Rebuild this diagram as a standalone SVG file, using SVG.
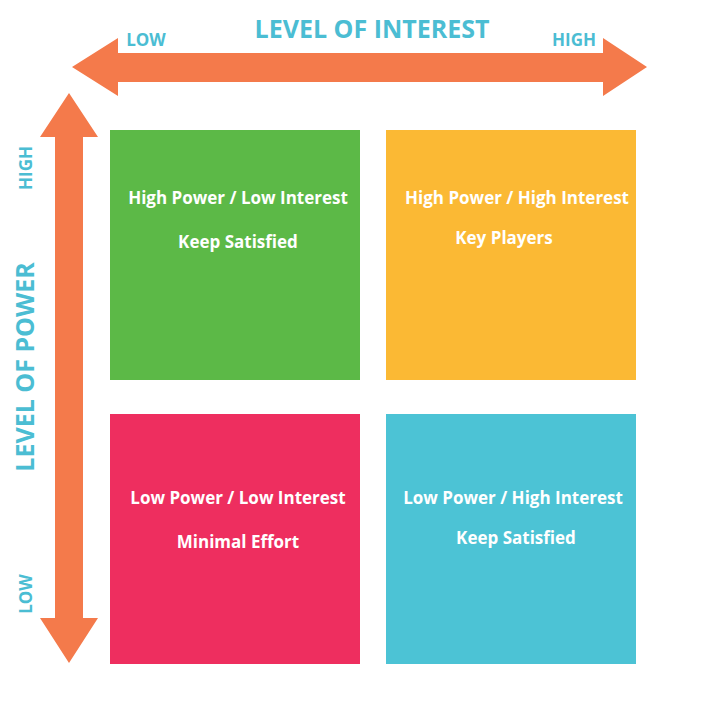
<svg xmlns="http://www.w3.org/2000/svg" width="707" height="704" viewBox="0 0 707 704">
<style>
.axis{fill:#4bbdd3;font-family:"Open Sans","Liberation Sans",sans-serif;font-weight:700;text-anchor:middle}
.lbl{fill:#ffffff;font-family:"Open Sans","Liberation Sans",sans-serif;font-weight:700;font-size:17px;text-anchor:middle}
.arrow{fill:#f47a4b}
</style>
<rect width="707" height="704" fill="#ffffff"/>
<g id="connectors">
<polygon class="arrow" points="72,67 118,38 118,53 603,53 603,38 647,67 603,96 603,82 118,82 118,96"/>
<polygon class="arrow" points="69,93 98,137 83,137 83,618 98,618 69,663 40,618 55,618 55,137 40,137"/>
</g>
<g id="axis-labels">
<text class="axis" x="372" y="38" font-size="25">LEVEL OF INTEREST</text>
<text class="axis" x="146" y="46" font-size="17">LOW</text>
<text class="axis" x="574" y="46" font-size="17">HIGH</text>
<text class="axis" transform="translate(34,367) rotate(-90)" font-size="25">LEVEL OF POWER</text>
<text class="axis" transform="translate(32,168) rotate(-90)" font-size="17">HIGH</text>
<text class="axis" transform="translate(32,594) rotate(-90)" font-size="17">LOW</text>
</g>
<g id="high-power-low-interest">
<rect x="110" y="130" width="250" height="250" fill="#5cb947"/>
<text class="lbl" x="238" y="204">High Power / Low Interest</text>
<text class="lbl" x="238" y="248">Keep Satisfied</text>
</g>
<g id="high-power-high-interest">
<rect x="386" y="130" width="250" height="250" fill="#fbb934"/>
<text class="lbl" x="517" y="204">High Power / High Interest</text>
<text class="lbl" x="504" y="244">Key Players</text>
</g>
<g id="low-power-low-interest">
<rect x="110" y="414" width="250" height="250" fill="#ee2e5f"/>
<text class="lbl" x="238" y="504">Low Power / Low Interest</text>
<text class="lbl" x="238" y="548">Minimal Effort</text>
</g>
<g id="low-power-high-interest">
<rect x="386" y="414" width="250" height="250" fill="#4cc3d5"/>
<text class="lbl" x="513" y="504">Low Power / High Interest</text>
<text class="lbl" x="516" y="544">Keep Satisfied</text>
</g>
</svg>
